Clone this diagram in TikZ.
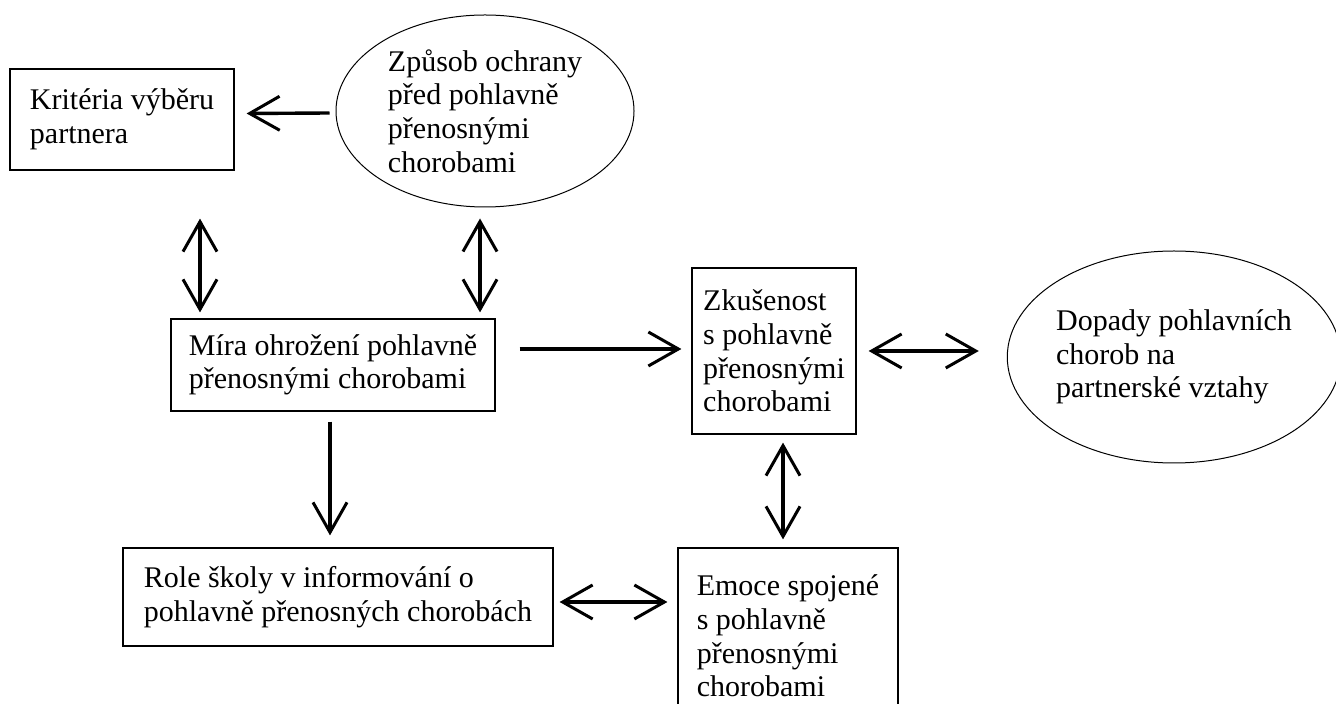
\documentclass[tikz,border=0pt]{standalone}
\usepackage{fontspec}
\setmainfont{Liberation Serif}
\usetikzlibrary{arrows.meta,shapes.geometric,calc}
\begin{document}
\begin{tikzpicture}[x=0.5pt,y=-0.5pt,
  txt/.style={font=\fontsize{15pt}{16.8pt}\selectfont, align=left, inner sep=0pt},
  box/.style={txt, draw, line width=0.6pt, rectangle},
  ell/.style={txt, draw, line width=0.5pt, ellipse},
  barb/.tip={Straight Barb[length=15pt,width=17pt,line width=1.5pt]},
  arr/.style={line width=1.7pt, -barb},
  darr/.style={line width=1.7pt, barb-barb}]
\useasboundingbox (0,0) rectangle (1336,704);
\fill[white] (0,0) rectangle (1336,704);

\node[box, minimum width=112pt, minimum height=50.5pt] (krit) at (122,119.5) {Kritéria výběru\\partnera};
\node[ell, minimum width=149pt, minimum height=96pt] (zp) at (485,111) {Způsob ochrany\\před pohlavně\\přenosnými\\chorobami};
\node[box, minimum width=162pt, minimum height=46pt] (mira) at (333,365) {Míra ohrožení pohlavně\\přenosnými chorobami};
\node[box, minimum width=82pt, minimum height=83pt] (zk) at (774,351) {Zkušenost\\s pohlavně\\přenosnými\\chorobami};
\node[ell, minimum width=165pt, minimum height=106pt] (dop) at (1174,357) {Dopady pohlavních\\chorob na\\partnerské vztahy};
\node[box, minimum width=215pt, minimum height=49pt] (role) at (338,597) {Role školy v informování o\\pohlavně přenosných chorobách};
\node[box, minimum width=110pt, minimum height=88pt] (emo) at (788,636) {Emoce spojené\\s pohlavně\\přenosnými\\chorobami};

\draw[arr] ($(zp.west)+(-6,2)$) -- ($(krit.east)+(12,-6)$);
\draw[darr] ($(krit.south)+(78,48)$) -- ($(krit.south |- mira.north)+(78,-6)$);
\draw[darr] ($(zp.south)+(-5,11)$) -- ($(zp.south |- mira.north)+(-5,-6)$);
\draw[arr] ($(mira.east)+(24,-16)$) -- ($(zk.west)+(-10,-2)$);
\draw[darr] ($(zk.east)+(12,0)$) -- ($(dop.west)+(-28,-6)$);
\draw[arr] ($(mira.south)+(-3,10)$) -- ($(mira.south |- role.north)+(-3,-12)$);
\draw[darr] ($(role.east)+(6,5)$) -- ($(emo.west |- role.east)+(-10,5)$);
\draw[darr] ($(zk.south)+(9,8)$) -- ($(zk.south |- emo.north)+(9,-8)$);
\end{tikzpicture}
\end{document}
